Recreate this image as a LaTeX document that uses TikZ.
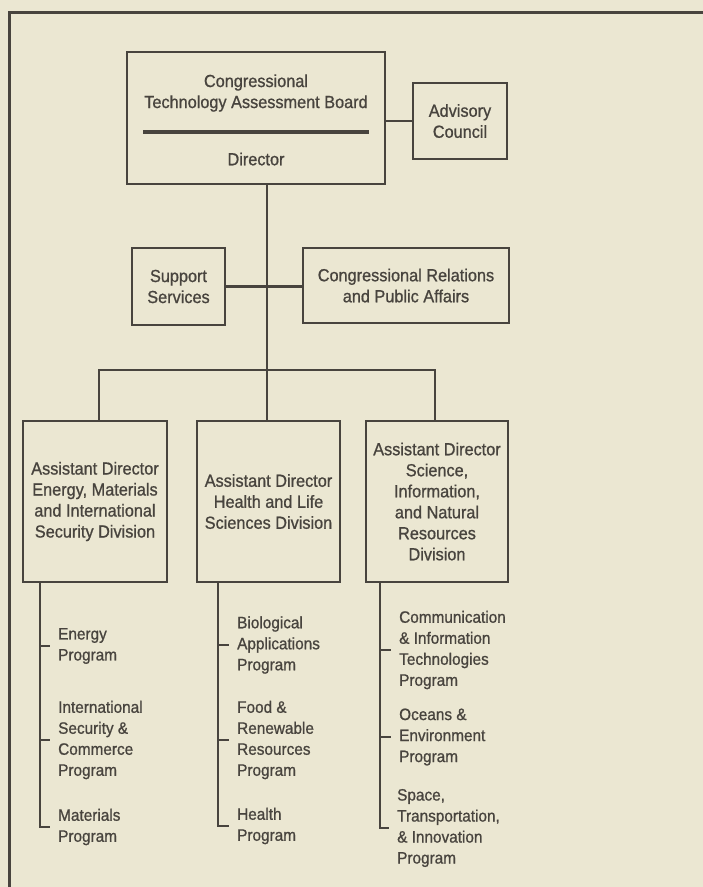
\documentclass[tikz,border=0pt]{standalone}
\usepackage{fontspec}
\setmainfont{Liberation Sans}[FakeStretch=0.93, FakeBold=0.9]
\definecolor{paper}{HTML}{EBE7D2}
\definecolor{ink}{HTML}{48443E}
\begin{document}
\begin{tikzpicture}[x=1pt,y=-1pt,
  line/.style={draw=ink, line width=2.8pt},
  box/.style={draw=ink, line width=2.8pt, text=ink, align=center, inner sep=0pt,
    font=\fontsize{17.5}{21}\selectfont},
  label/.style={text=ink, align=center, inner sep=0pt, font=\fontsize{17.5}{21}\selectfont},
  prog/.style={text=ink, align=left, anchor=west, inner sep=0pt,
    font=\fontsize{16.5}{21}\selectfont},
  tick/.style={line, shorten >=8pt},
]
% page and outer frame
\fill[paper] (0,0) rectangle (703,887);
\useasboundingbox (0,0) rectangle (703,887);
\draw[line, line width=3pt] (703,12) -- (9,12) -- (9,887);

% board and director
\node[box, minimum width=258pt, minimum height=132pt] (board) at (256,118) {};
\node[label] (boardname) at (256,93) {Congressional\\Technology Assessment Board};
\draw[line, line width=3.2pt] (143,132) -- (369,132);
\node[label] (director) at (256,159) {Director};

\node[box, minimum width=94pt, minimum height=76pt] (advisory) at (460,121) {Advisory\\Council};

% staff offices
\node[box, minimum width=93pt, minimum height=77pt] (support) at (178.5,286.5) {Support\\Services};
\node[box, minimum width=206pt, minimum height=75pt] (relations) at (406,285.5)
  {Congressional Relations\\and Public Affairs};

% divisions
\node[box, minimum width=144pt, minimum height=161pt] (divA) at (95,501.5)
  {Assistant Director\\Energy, Materials\\and International\\Security Division};
\node[box, minimum width=143pt, minimum height=161pt] (divB) at (268.5,501.5)
  {Assistant Director\\Health and Life\\Sciences Division};
\node[box, minimum width=142pt, minimum height=161pt] (divC) at (437,501.5)
  {Assistant Director\\Science,\\Information,\\and Natural\\Resources\\Division};

% connectors in the upper part
\coordinate (trunk) at (267,370);
\coordinate (busA) at (99,370);
\coordinate (busC) at (435,370);
\draw[line] (advisory.west) -- (advisory.west -| board.east);
\draw[line] (board.south -| trunk) -- (trunk) -- (divB.north -| trunk);
\draw[line] (support.east) -- (support.east -| relations.west);
\draw[line] (divA.north -| busA) -- (busA) -- (busC) -- (divC.north -| busC);

% programs of each division
\node[prog] (energy) at (58,646) {Energy\\Program};
\node[prog] (security) at (58,740) {International\\Security \&\\Commerce\\Program};
\node[prog] (materials) at (58,827) {Materials\\Program};

\node[prog] (bio) at (237,645) {Biological\\Applications\\Program};
\node[prog] (food) at (237,740) {Food \&\\Renewable\\Resources\\Program};
\node[prog] (health) at (237,826) {Health\\Program};

\node[prog] (comm) at (399,650) {Communication\\\& Information\\Technologies\\Program};
\node[prog] (oceans) at (399,737) {Oceans \&\\Environment\\Program};
\node[prog] (space) at (397,828) {Space,\\Transportation,\\\& Innovation\\Program};

\coordinate (spineA) at (40,827);
\coordinate (spineB) at (218,826);
\coordinate (spineC) at (380,828);

\draw[tick] (divA.south -| spineA) -- (spineA) -- (materials.west);
\draw[tick] (energy.west -| spineA) -- (energy.west);
\draw[tick] (security.west -| spineA) -- (security.west);

\draw[tick] (divB.south -| spineB) -- (spineB) -- (health.west);
\draw[tick] (bio.west -| spineB) -- (bio.west);
\draw[tick] (food.west -| spineB) -- (food.west);

\draw[tick] (divC.south -| spineC) -- (spineC) -- (space.west);
\draw[tick] (comm.west -| spineC) -- (comm.west);
\draw[tick] (oceans.west -| spineC) -- (oceans.west);
\end{tikzpicture}
\end{document}
